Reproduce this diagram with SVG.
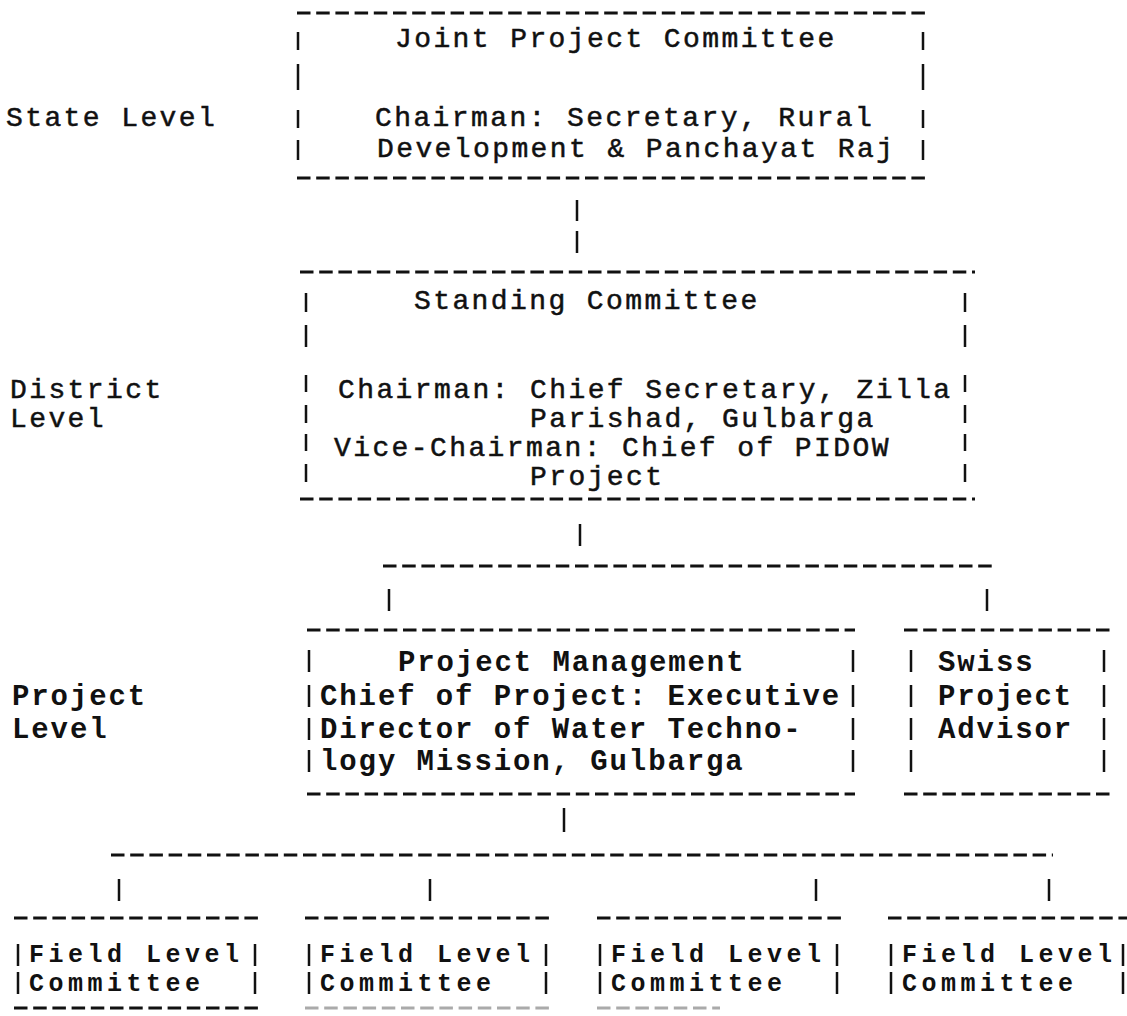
<svg xmlns="http://www.w3.org/2000/svg" width="1127" height="1016" viewBox="0 0 1127 1016">
<style>
.t1{font-family:"Liberation Mono","Courier New",monospace;font-size:28px;letter-spacing:2.4px;fill:#111;stroke:#111;stroke-width:0.5}
.t2{font-family:"Liberation Mono","Courier New",monospace;font-size:29px;letter-spacing:1.9px;fill:#111;font-weight:bold}
.t3{font-family:"Liberation Mono","Courier New",monospace;font-size:25px;letter-spacing:4.5px;fill:#111;font-weight:bold}
.dash{stroke:#111;stroke-width:3;stroke-dasharray:13.5 5.7;fill:none}
.bar{stroke:#111;stroke-width:2.5;fill:none}
.faint{stroke:#aaa}
</style>
<rect width="1127" height="1016" fill="#fff"/>

<g id="labels">
<text class="t1" x="6" y="126">State Level</text>
<text class="t1" x="10" y="398">District</text>
<text class="t1" x="10" y="427">Level</text>
<text class="t2" x="12" y="705">Project</text>
<text class="t2" x="12" y="738">Level</text>
</g>

<g id="joint-committee">
<path class="dash" d="M297 13H925M297 178H925"/>
<path class="bar" d="M298 32V50M298 64V90M298 110V128M298 140V160M923 32V50M923 64V90M923 110V128M923 140V160"/>
<text class="t1" x="395" y="47">Joint Project Committee</text>
<text class="t1" x="375" y="126">Chairman: Secretary, Rural</text>
<text class="t1" x="377" y="157">Development &amp; Panchayat Raj</text>
</g>

<g id="standing-committee">
<path class="dash" d="M300 272H975M300 499H975"/>
<path class="bar" d="M306 293V312M306 325V347M306 375V392M306 405V423M306 434V451M306 464V482M965 293V312M965 325V347M965 375V392M965 405V423M965 434V451M965 464V482"/>
<text class="t1" x="414" y="309">Standing Committee</text>
<text class="t1" x="338" y="398">Chairman: Chief Secretary, Zilla</text>
<text class="t1" x="530" y="427">Parishad, Gulbarga</text>
<text class="t1" x="334" y="456">Vice-Chairman: Chief of PIDOW</text>
<text class="t1" x="530" y="485">Project</text>
</g>

<g id="project-management">
<path class="dash" d="M307 630H855M307 794H855"/>
<path class="bar" d="M309 650V672M309 685V707M309 718V740M309 750V772M853 650V672M853 685V707M853 718V740M853 750V772"/>
<text class="t2" x="398" y="671">Project Management</text>
<text class="t2" x="320" y="705">Chief of Project: Executive</text>
<text class="t2" x="320" y="738">Director of Water Techno-</text>
<text class="t2" x="320" y="770">logy Mission, Gulbarga</text>
</g>

<g id="swiss-advisor">
<path class="dash" d="M904 630H1115M904 794H1115"/>
<path class="bar" d="M911 650V672M911 685V707M911 718V740M911 750V772M1104 650V672M1104 685V707M1104 718V740M1104 750V772"/>
<text class="t2" x="938" y="671">Swiss</text>
<text class="t2" x="938" y="705">Project</text>
<text class="t2" x="938" y="738">Advisor</text>
</g>

<g id="field-1">
<path class="dash" d="M14 918H259M14 1008H259"/>
<path class="bar" d="M18 944V966M18 972V994M255 944V966M255 972V994"/>
<text class="t3" x="29" y="962">Field Level</text>
<text class="t3" x="29" y="991">Committee</text>
</g>
<g id="field-2">
<path class="dash" d="M305 918H553"/>
<path class="dash faint" d="M305 1008H553"/>
<path class="bar" d="M309 944V966M309 972V994M546 944V966M546 972V994"/>
<text class="t3" x="320" y="962">Field Level</text>
<text class="t3" x="320" y="991">Committee</text>
</g>
<g id="field-3">
<path class="dash" d="M597 918H845"/>
<path class="dash faint" d="M597 1008H720"/>
<path class="bar" d="M600 944V966M600 972V994M837 944V966M837 972V994"/>
<text class="t3" x="611" y="962">Field Level</text>
<text class="t3" x="611" y="991">Committee</text>
</g>
<g id="field-4">
<path class="dash" d="M888 918H1127"/>
<path class="bar" d="M891 944V966M891 972V994M1123 944V966M1123 972V994"/>
<text class="t3" x="902" y="962">Field Level</text>
<text class="t3" x="902" y="991">Committee</text>
</g>

<g id="connectors">
<path class="bar" d="M577 200V221M577 231V253"/>
<path class="bar" d="M580 524V546"/>
<path class="dash" d="M383 566H993"/>
<path class="bar" d="M389 589V611M987 589V611"/>
<path class="bar" d="M564 808V832"/>
<path class="dash" d="M111 855H1053"/>
<path class="bar" d="M119 879V901M430 879V901M816 879V901M1049 879V901"/>
</g>
</svg>
